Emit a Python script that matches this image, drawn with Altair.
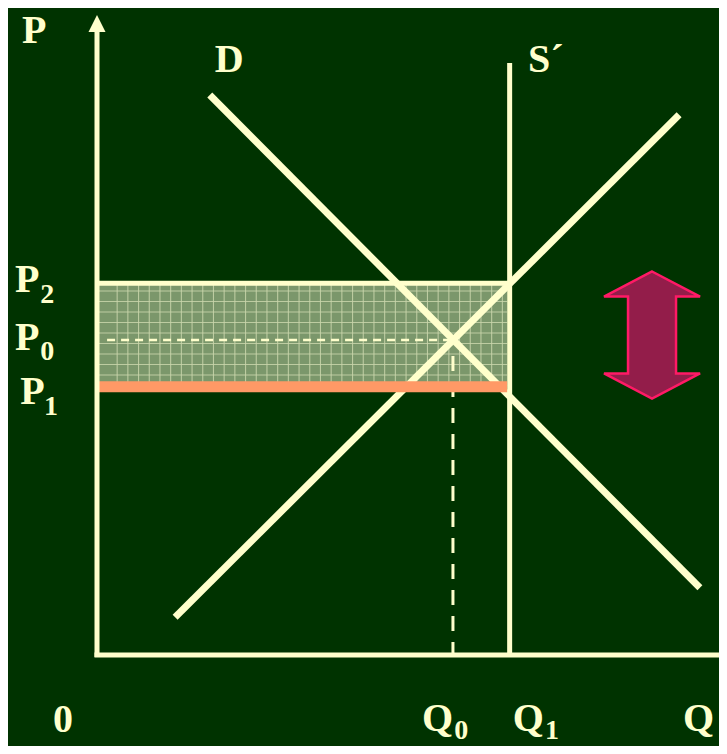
import altair as alt
import numpy as np
import pandas as pd

# ---------------- data (economic units) ----------------
Q0, Q1 = 5.65, 6.55          # equilibrium quantity, fixed supply quantity
P0, P1, P2 = 4.92, 4.19, 5.81  # prices
Q_RECT_END = 6.51

demand_q = [1.79, 9.57]
demand_p = [8.75, 1.05]
supply_q = [1.24, 9.24]
supply_p = [0.59, 8.44]
sprime_top = 9.25

arrow_q = [8.81]
arrow_p = [5.00]

label_text = ["P", "D", "S´", "P", "P", "P", "0", "Q", "Q", "Q"]
label_q = [-1.19, 1.87, 6.84, -1.30, -1.30, -1.22, -0.70, 5.16, 6.60, 9.30]
label_p = [9.56, 9.11, 9.11, 5.67, 4.77, 3.92, -1.20, -1.19, -1.19, -1.19]
sub_text = ["2", "0", "1", "0", "1"]
sub_q = [-0.90, -0.90, -0.84, 5.67, 7.11]
sub_p = [5.50, 4.61, 3.75, -1.31, -1.31]

# ---------------- layout ----------------
W, H = 711, 738
PX_X0, PX_PER_Q = 97, 63
PX_Y0, PX_PER_P = 655, 64
XDOM = [(8 - PX_X0) / PX_PER_Q, (8 + W - PX_X0) / PX_PER_Q]
YDOM = [(PX_Y0 - (8 + H)) / PX_PER_P, (PX_Y0 - 8) / PX_PER_P]

CREAM = "#ffffcc"
BG = "#003300"
FONT = "Liberation Serif"

# double-headed arrow outline, normalised to [-1, 1]
ARROW_PATH = ("M0,-1L0.756,-0.606L0.378,-0.606L0.378,0.606L0.756,0.606L0,1"
              "L-0.756,0.606L-0.378,0.606L-0.378,-0.606L-0.756,-0.606Z")

xs = alt.Scale(domain=XDOM, nice=False, zero=False)
ys = alt.Scale(domain=YDOM, nice=False, zero=False)


def X(f="x"):
    return alt.X(f"{f}:Q", scale=xs, axis=None)


def Y(f="y"):
    return alt.Y(f"{f}:Q", scale=ys, axis=None)


def seg_df(rows):
    return pd.DataFrame(rows, columns=["x", "y", "x2", "y2"])


def rule(df, color, width, dash=None, cap="butt", opacity=1):
    kw = dict(color=color, strokeWidth=width, strokeCap=cap, opacity=opacity)
    if dash:
        kw["strokeDash"] = dash
    return alt.Chart(df).mark_rule(**kw).encode(
        x=X("x"), y=Y("y"), x2="x2:Q", y2="y2:Q")


layers = []

# shaded rectangle
rect_df = pd.DataFrame({"x": [0.0], "x2": [Q_RECT_END], "y": [P1], "y2": [P2]})
layers.append(alt.Chart(rect_df).mark_rect(color="#7b976b").encode(
    x=X("x"), x2="x2:Q", y=Y("y"), y2="y2:Q"))

# texture grid of the shaded rectangle
gx = np.arange(0.32, Q_RECT_END, 10.7 / PX_PER_Q)
gy = np.arange(P1 + 0.02, P2, 10.5 / PX_PER_P)
grid_rows = [[v, P1, v, P2] for v in gx] + [[0.0, v, Q_RECT_END, v] for v in gy]
layers.append(rule(seg_df(grid_rows), "#c9d5aa", 1.1, opacity=0.85))

# dashed equilibrium guides
layers.append(rule(seg_df([[0.16, P0, Q0, P0]]), CREAM, 2.5, dash=[8, 6]))
layers.append(rule(seg_df([[Q0, P0 - 0.25, Q0, 0.0]]), CREAM, 3, dash=[15, 11]))

# S' vertical
layers.append(rule(seg_df([[Q1, 0.0, Q1, sprime_top]]), CREAM, 5))
# demand and supply
layers.append(rule(seg_df([[demand_q[0], demand_p[0], demand_q[1], demand_p[1]]]), CREAM, 7))
layers.append(rule(seg_df([[supply_q[0], supply_p[0], supply_q[1], supply_p[1]]]), CREAM, 7))

# top border of the rectangle and P1 line
layers.append(rule(seg_df([[0.0, P2, Q_RECT_END + 0.03, P2]]), CREAM, 5))
layers.append(rule(seg_df([[-0.03, P1, Q_RECT_END, P1]]), "#ff9966", 11))

# axes
layers.append(rule(seg_df([[0.0, -0.03, 0.0, 9.75]]), CREAM, 5))
layers.append(rule(seg_df([[-0.04, 0.0, XDOM[1] + 0.2, 0.0]]), CREAM, 5))
tip_df = pd.DataFrame({"x": [0.0], "y": [(PX_Y0 - 23.5) / PX_PER_P]})
layers.append(alt.Chart(tip_df).mark_point(
    shape="M0,-1L1,1L-1,1Z", filled=True, size=289, color=CREAM, opacity=1,
    strokeWidth=0).encode(x=X("x"), y=Y("y")))

# red double arrow
arrow_df = pd.DataFrame({"x": arrow_q, "y": arrow_p})
layers.append(alt.Chart(arrow_df).mark_point(
    shape=ARROW_PATH, size=127 * 127, filled=True, fill="#931d4a", fillOpacity=1,
    stroke="#ff1a66", strokeWidth=2.5, opacity=1).encode(x=X("x"), y=Y("y")))

# labels
lab_df = pd.DataFrame({"x": label_q, "y": label_p, "t": label_text})
layers.append(alt.Chart(lab_df).mark_text(
    font=FONT, fontWeight="bold", fontSize=40, color=CREAM, align="left",
    baseline="alphabetic").encode(x=X("x"), y=Y("y"), text="t:N"))
sub_df = pd.DataFrame({"x": sub_q, "y": sub_p, "t": sub_text})
layers.append(alt.Chart(sub_df).mark_text(
    font=FONT, fontWeight="bold", fontSize=28, color=CREAM, align="left",
    baseline="alphabetic").encode(x=X("x"), y=Y("y"), text="t:N"))

chart = alt.layer(*layers).properties(
    width=W, height=H, padding=0, autosize=alt.AutoSizeParams(type="none"),
    background=BG
).configure_view(stroke=None, fill=BG)

chart.save("out.html", embed_options={"renderer": "svg", "actions": False})
